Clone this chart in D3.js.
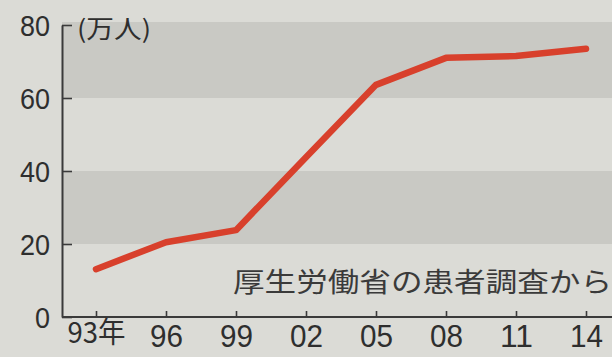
<!DOCTYPE html>
<html>
<head>
<meta charset="utf-8">
<script src="https://cdn.jsdelivr.net/npm/d3@7"></script>
<style>
  html, body { margin: 0; padding: 0; background: #dbdbd6; }
  svg { display: block; }
</style>
</head>
<body>
<svg id="chart"></svg>
<script>
// データ (万人)
const years = [1993, 1996, 1999, 2002, 2005, 2008, 2011, 2014];
const yearLabels = ["93年", "96", "99", "02", "05", "08", "11", "14"];
const patients = [13.1, 20.5, 23.8, 43.8, 63.6, 71, 71.5, 73.5];
const yTicks = [0, 20, 40, 60, 80];
const unitLabel = "(万人)";
const sourceNote = "厚生労働省の患者調査から";

const width = 612;
const height = 357;
const margin = {top: 25, right: 0, bottom: 40, left: 62};

const svg = d3.select("#chart")
  .attr("width", width)
  .attr("height", height);

// 背景
svg.append("rect")
  .attr("width", width)
  .attr("height", height)
  .attr("fill", "#dbdbd6");

const x = d3.scaleLinear()
  .domain([1993, 2014])
  .range([96, 586]);

const y = d3.scaleLinear()
  .domain([0, 80])
  .range([317, 25]);

// 灰色の帯
const bands = [[60, 80], [20, 40]];
svg.selectAll("rect.band")
  .data(bands)
  .enter()
  .append("rect")
  .attr("class", "band")
  .attr("x", margin.left)
  .attr("y", d => y(d[1]) - (d[1] == 80 ? 3 : 0))
  .attr("width", width - margin.left)
  .attr("height", d => y(d[0]) - y(d[1]) + (d[1] == 80 ? 3 : 0))
  .attr("fill", "#c9c9c4");

const numFont = "'Liberation Sans', Arial, sans-serif";
const jpFont = "'Noto Sans CJK JP', sans-serif";

// 縦軸
const yAxis = svg.append("g")
  .attr("transform", `translate(${margin.left},0)`)
  .call(d3.axisLeft(y).tickValues(yTicks).tickSize(-10).tickSizeOuter(0).tickPadding(12));
yAxis.select(".domain").attr("stroke", "#3a3a3a").attr("stroke-width", 2);
yAxis.selectAll(".tick line").attr("stroke", "#3a3a3a").attr("stroke-width", 1.6);
yAxis.selectAll(".tick text")
  .attr("font-family", numFont)
  .attr("font-size", "29px")
  .attr("fill", "#2e2e2e")
  .attr("dy", "0.35em")
  .attr("textLength", d => d == 0 ? 15 : 30)
  .attr("lengthAdjust", "spacingAndGlyphs");

// 横軸
const xAxis = svg.append("g")
  .attr("transform", `translate(0,${y(0)})`)
  .call(d3.axisBottom(x).tickValues(years).tickSize(-6).tickSizeOuter(0).tickPadding(8)
    .tickFormat((d, i) => yearLabels[i]));
xAxis.select(".domain")
  .attr("d", `M${margin.left},0H${width}`)
  .attr("stroke", "#3a3a3a").attr("stroke-width", 2);
xAxis.selectAll(".tick line").attr("stroke", "#3a3a3a").attr("stroke-width", 1.6);
xAxis.selectAll(".tick text")
  .attr("font-family", numFont)
  .attr("font-size", "31px")
  .attr("fill", "#2e2e2e")
  .attr("dy", "0.71em")
  .attr("textLength", (d, i) => i == 0 ? 58 : 33)
  .attr("lengthAdjust", "spacingAndGlyphs");
xAxis.select(".tick text")
  .attr("font-family", jpFont)
  .attr("font-size", "29px")
  .attr("dy", "0.62em");

// 単位
svg.append("text")
  .attr("x", 77)
  .attr("y", 38)
  .attr("font-family", jpFont)
  .attr("font-size", "25px")
  .attr("fill", "#2e2e2e")
  .attr("textLength", 74)
  .attr("lengthAdjust", "spacingAndGlyphs")
  .text(unitLabel);

// 出典
svg.append("text")
  .attr("x", 233)
  .attr("y", 292)
  .attr("font-family", jpFont)
  .attr("font-size", "27px")
  .attr("fill", "#3a3a3a")
  .attr("textLength", 379)
  .attr("lengthAdjust", "spacingAndGlyphs")
  .text(sourceNote);

// 折れ線
const line = d3.line()
  .x((d, i) => x(years[i]))
  .y(d => y(d));

svg.append("path")
  .datum(patients)
  .attr("fill", "none")
  .attr("stroke", "#d8402c")
  .attr("stroke-width", 6.5)
  .attr("stroke-linejoin", "round")
  .attr("stroke-linecap", "round")
  .attr("d", line);
</script>
</body>
</html>
